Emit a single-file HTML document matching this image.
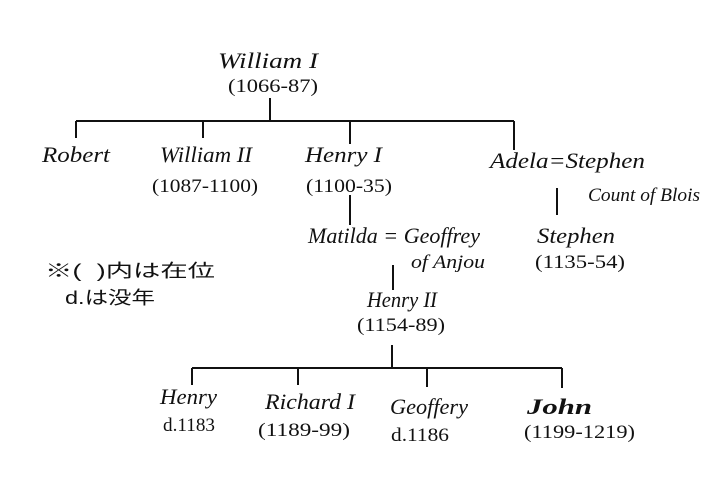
<!DOCTYPE html>
<html><head><meta charset="utf-8"><style>
html,body{margin:0;padding:0;background:#fff}
svg{display:block}
text{font-family:"Liberation Serif","Noto Sans CJK JP",serif;font-style:italic;fill:#111}
.n{font-size:22px}
.d{font-size:19px;font-style:normal}
.j{font-family:"Liberation Sans","Noto Sans CJK JP",sans-serif;font-style:normal;font-size:18px}
</style></head><body>
<svg width="713" height="504" viewBox="0 0 713 504" xmlns="http://www.w3.org/2000/svg">
<g stroke="#111" stroke-width="2" fill="none">
<path d="M270 98V121M76 121H514M76 121V138M203 121V138M350 121V144M514 121V150"/>
<path d="M350 195V225M557 188V215M393 265V290M392 345V368M192 368H562M192 368V385M298 368V385M427 368V387M562 368V388"/>
</g>
<text class="n" x="218" y="68" textLength="100" lengthAdjust="spacingAndGlyphs">William I</text>
<text class="d" x="228" y="92" textLength="90" lengthAdjust="spacingAndGlyphs">(1066-87)</text>
<text class="n" x="42" y="162" textLength="68" lengthAdjust="spacingAndGlyphs">Robert</text>
<text class="n" x="160" y="162" textLength="92" lengthAdjust="spacingAndGlyphs">William II</text>
<text class="d" x="152" y="192" textLength="106" lengthAdjust="spacingAndGlyphs">(1087-1100)</text>
<text class="n" x="305" y="162" textLength="77" lengthAdjust="spacingAndGlyphs">Henry I</text>
<text class="d" x="306" y="192" textLength="86" lengthAdjust="spacingAndGlyphs">(1100-35)</text>
<text class="n" x="490" y="168" textLength="155" lengthAdjust="spacingAndGlyphs">Adela=Stephen</text>
<text class="d" x="588" y="201" style="font-style:italic" textLength="112" lengthAdjust="spacingAndGlyphs">Count of Blois</text>
<text class="n" x="308" y="243" textLength="172" lengthAdjust="spacingAndGlyphs">Matilda = Geoffrey</text>
<text class="d" x="411" y="268" style="font-style:italic" textLength="74" lengthAdjust="spacingAndGlyphs">of Anjou</text>
<text class="n" x="537" y="243" textLength="78" lengthAdjust="spacingAndGlyphs">Stephen</text>
<text class="d" x="535" y="268" textLength="90" lengthAdjust="spacingAndGlyphs">(1135-54)</text>
<text class="j" x="45" y="277" textLength="170" lengthAdjust="spacingAndGlyphs">※(&#160;&#160;)内は在位</text>
<text class="j" x="65" y="304" textLength="90" lengthAdjust="spacingAndGlyphs">d.は没年</text>
<text class="n" x="367" y="307" textLength="70" lengthAdjust="spacingAndGlyphs">Henry II</text>
<text class="d" x="357" y="331" textLength="88" lengthAdjust="spacingAndGlyphs">(1154-89)</text>
<text class="n" x="160" y="404" textLength="57" lengthAdjust="spacingAndGlyphs">Henry</text>
<text class="d" x="163" y="431" textLength="52" lengthAdjust="spacingAndGlyphs">d.1183</text>
<text class="n" x="265" y="409" textLength="90" lengthAdjust="spacingAndGlyphs">Richard I</text>
<text class="d" x="258" y="436" textLength="92" lengthAdjust="spacingAndGlyphs">(1189-99)</text>
<text class="n" x="390" y="414" textLength="78" lengthAdjust="spacingAndGlyphs">Geoffery</text>
<text class="d" x="391" y="441" textLength="58" lengthAdjust="spacingAndGlyphs">d.1186</text>
<text class="n" x="527" y="414" style="font-weight:bold" textLength="65" lengthAdjust="spacingAndGlyphs">John</text>
<text class="d" x="524" y="438" textLength="111" lengthAdjust="spacingAndGlyphs">(1199-1219)</text>
</svg>
</body></html>
